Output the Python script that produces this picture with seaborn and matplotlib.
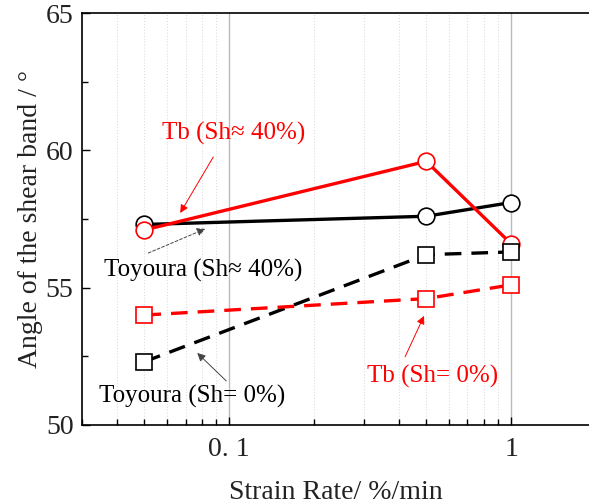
import matplotlib
matplotlib.use("Agg")
from matplotlib import pyplot as plt
from matplotlib.ticker import FixedLocator, LogLocator, NullFormatter, MultipleLocator
import seaborn as sns

# data
rate = [0.05, 0.5, 1.0]
toyoura_40 = [57.3, 57.6, 58.1]
tb_40 = [57.1, 59.6, 56.6]
toyoura_0 = [52.3, 56.2, 56.3]
tb_0 = [54.0, 54.6, 55.1]
xtick_vals = [0.1, 1]
xtick_labels = ["0. 1", "1"]

sns.set_theme(style="ticks")
plt.rcParams['font.family'] = ['Liberation Serif', 'DejaVu Serif']

fig = plt.figure(figsize=(5.89, 5.04), dpi=100)
ax = fig.add_axes([0.139, 0.157, 0.861, 0.817])

dash = (0, (5, 3))
mk = dict(markersize=12, markerfacecolor='white', markeredgewidth=1.2)

sns.lineplot(x=rate, y=toyoura_40, ax=ax, color='black', lw=2.4, marker='o',
             markeredgecolor='black', **mk)
sns.lineplot(x=rate, y=tb_40, ax=ax, color='red', lw=2.4, marker='o',
             markeredgecolor='red', **mk)
sns.lineplot(x=rate, y=toyoura_0, ax=ax, color='black', lw=2.4, marker='s',
             linestyle=dash, markeredgecolor='black', **mk)
sns.lineplot(x=rate, y=tb_0, ax=ax, color='red', lw=2.4, marker='s',
             linestyle=dash, markeredgecolor='red', **mk)

ax.set_xscale('log')
ax.set_xlim(0.03, 1.89)
ax.set_ylim(50, 65)

ax.xaxis.set_major_locator(FixedLocator(xtick_vals))
ax.set_xticklabels(xtick_labels)
ax.xaxis.set_minor_locator(LogLocator(base=10, subs=range(2, 10)))
ax.xaxis.set_minor_formatter(NullFormatter())
ax.yaxis.set_major_locator(MultipleLocator(5))
ax.yaxis.set_minor_locator(MultipleLocator(2.5))

ax.grid(which='major', axis='x', color='#bbbbbb', lw=1.0, ls='-')
ax.grid(which='minor', axis='x', color='#dddddd', lw=0.8, ls=':')
ax.set_axisbelow(True)

ax.tick_params(which='both', direction='in', labelsize=20, width=1.0,
               colors='black', labelcolor='#222222', pad=6)
ax.tick_params(which='major', length=6)
ax.tick_params(which='minor', length=4)
ax.tick_params(axis='x', pad=9)

for s in ['left', 'bottom', 'top']:
    ax.spines[s].set_linewidth(1.2)
    ax.spines[s].set_color('black')
ax.spines['right'].set_visible(False)

ax.set_xlabel("Strain Rate/ %/min", fontsize=20, labelpad=13, color='#222222')
ax.set_ylabel("Angle of the shear band / °", fontsize=20, labelpad=2, color='#222222')

# annotation texts and arrows (head, tail in data coords)
labels = [
    ("Tb (Sh≈ 40%)", (0.1033, 60.63), 'red', (0.0670, 57.72), (0.0878, 59.76), '-'),
    ("Toyoura (Sh≈ 40%)", (0.0809, 55.64), 'black', (0.0822, 57.14), (0.0516, 56.26), (0, (3, 2))),
    ("Toyoura (Sh= 0%)", (0.0739, 51.02), 'black', (0.0770, 52.62), (0.0976, 51.60), '-'),
    ("Tb (Sh= 0%)", (0.525, 51.75), 'red', (0.491, 53.97), (0.4207, 52.48), '-'),
]
for txt, pos, col, head, tail, ls in labels:
    ax.text(pos[0], pos[1], txt, ha='center', va='center', color=col, fontsize=18)
    acol = '#444444' if col == 'black' else 'red'
    ax.annotate("", xy=head, xytext=tail,
                arrowprops=dict(arrowstyle='-|>', color=acol, lw=0.7, ls=ls,
                                shrinkA=0, shrinkB=0, mutation_scale=12))

fig.savefig("out.png", dpi=100)
